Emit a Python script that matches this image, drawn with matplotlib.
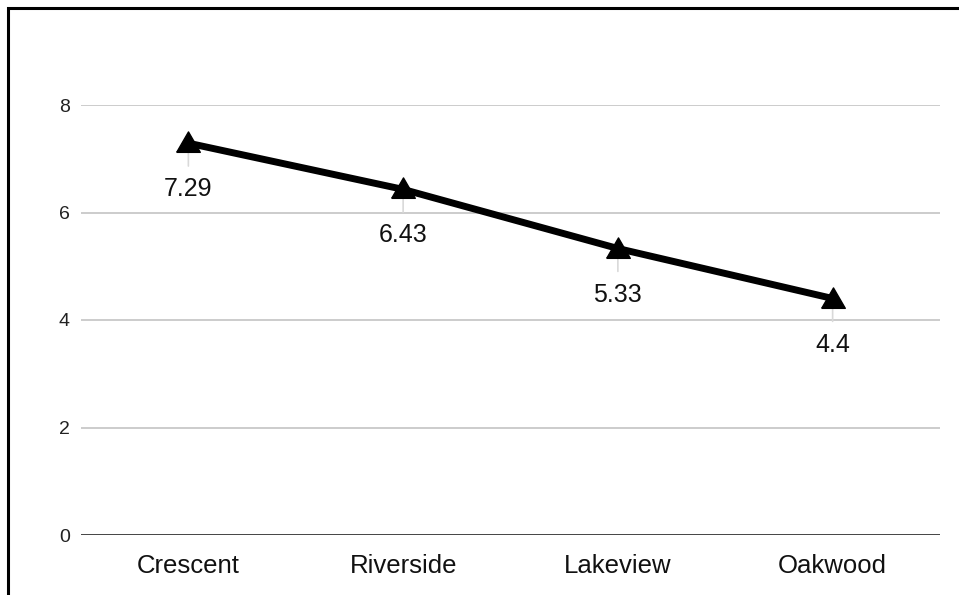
import matplotlib
matplotlib.use("Agg")
import matplotlib.pyplot as plt
from matplotlib.patches import Rectangle

plt.rcParams['font.family'] = ['Liberation Sans', 'DejaVu Sans']

categories = ["Crescent", "Riverside", "Lakeview", "Oakwood"]
values = [7.29, 6.43, 5.33, 4.4]
value_labels = ["7.29", "6.43", "5.33", "4.4"]
y_ticks = [0, 2, 4, 6, 8]

W, H = 959, 595
fig = plt.figure(figsize=(W / 100, H / 100), dpi=100)
fig.patch.set_facecolor("white")

# outer frame (left and top edges visible)
fig.add_artist(Rectangle((8 / W, -0.05), 1.2, 1 - 8 / H + 0.05,
                         transform=fig.transFigure, fill=False,
                         edgecolor="black", linewidth=2.2, zorder=10))

ax = fig.add_axes([81 / W, (H - 535) / H, (940 - 81) / W, 430 / H])
x = list(range(len(categories)))

ax.set_xlim(-0.5, len(categories) - 0.5)
ax.set_ylim(0, 8)
ax.set_yticks(y_ticks)
ax.set_yticklabels([str(t) for t in y_ticks], fontsize=14, color="#222222")
ax.set_xticks(x)
ax.set_xticklabels(categories, fontsize=18.5, color="#111111")
ax.tick_params(axis="both", length=0)
ax.tick_params(axis="y", pad=8)
ax.tick_params(axis="x", pad=14)

for s in ax.spines.values():
    s.set_visible(False)

for t in y_ticks[1:]:
    ax.axhline(t, color="#cccccc", linewidth=1.4, zorder=1)
ax.axhline(0, color="#333333", linewidth=2.0, zorder=2)

# equilateral triangle marker
tri = [(-1.0, -0.75), (1.0, -0.75), (0.0, 0.98), (-1.0, -0.75)]
ax.plot(x, values, color="black", linewidth=5, marker=tri,
        markersize=17, markeredgewidth=1, zorder=5, solid_capstyle="butt")

for xi, v, lab in zip(x, values, value_labels):
    ax.annotate(lab, xy=(xi, v), xytext=(0, -46), textcoords="offset pixels",
                ha="center", va="center", fontsize=18, color="#111111",
                arrowprops=dict(arrowstyle="-", color="#d9d9d9", lw=1.2,
                                shrinkA=6, shrinkB=6, relpos=(0.5, 1.0)),
                zorder=4)

fig.savefig("out.png", dpi=100, facecolor="white")
